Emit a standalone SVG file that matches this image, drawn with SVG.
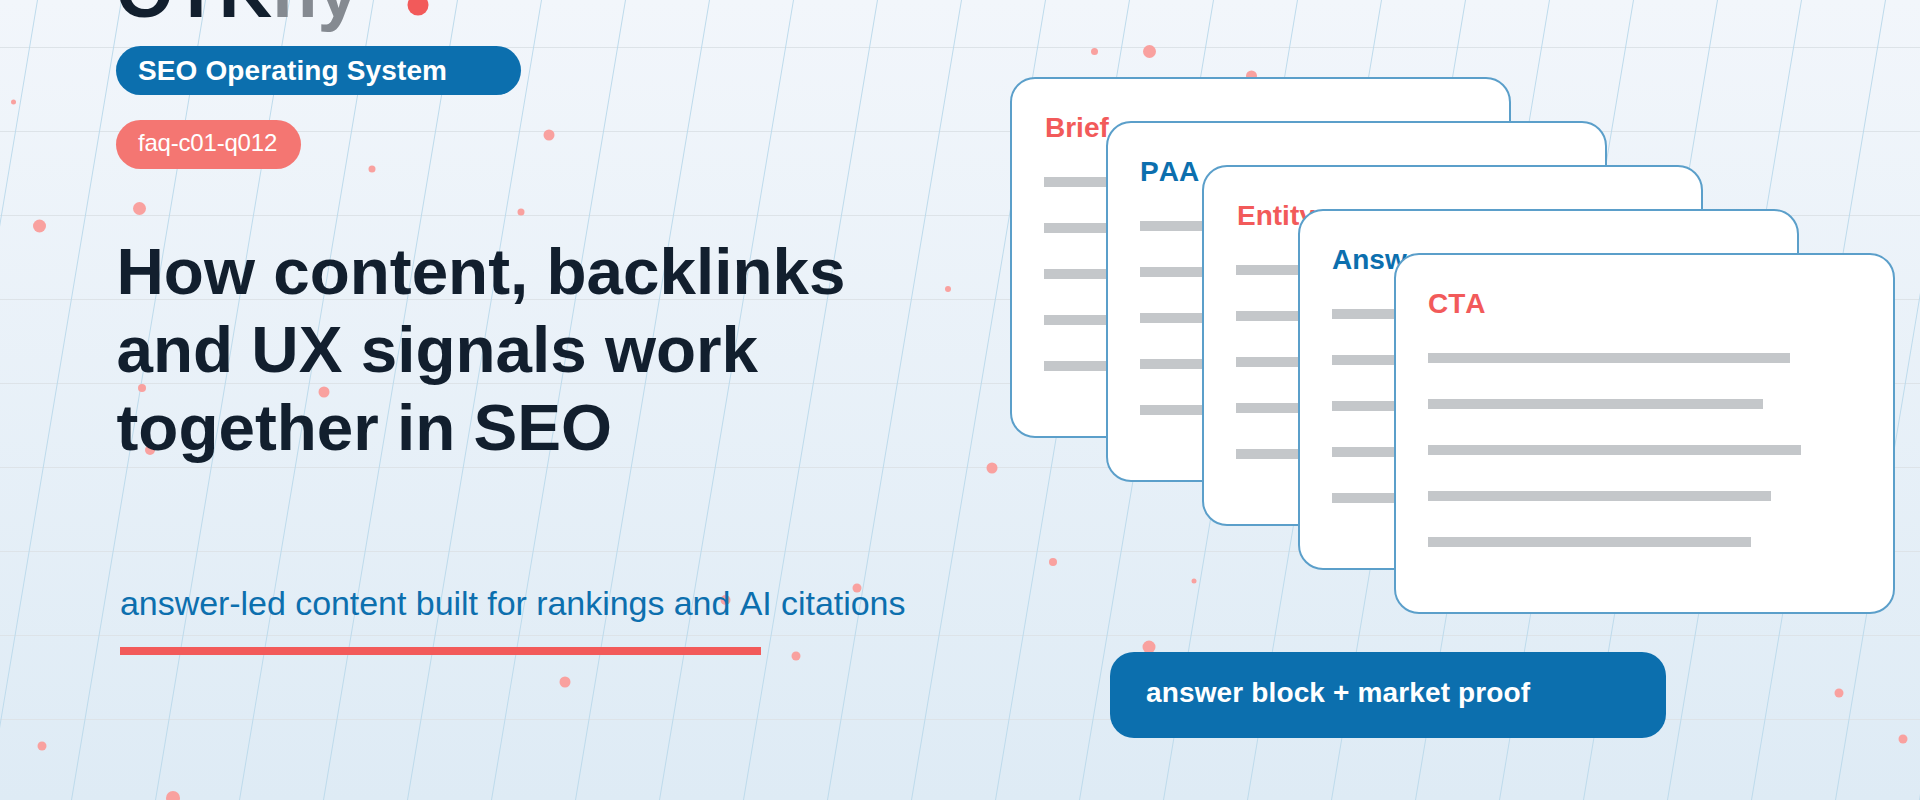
<svg xmlns="http://www.w3.org/2000/svg" width="1920" height="800" viewBox="0 0 1920 800">
<style>
text{font-family:"Liberation Sans",Arial,sans-serif;font-kerning:none}
.b{font-weight:700}
.hg{stroke:#dde3e8;stroke-width:1;fill:none}
.sg{stroke:#bedbec;stroke-width:1;fill:none}
.dot{fill:#f9a19f}
.card{fill:#fff;stroke:#5b9fca;stroke-width:2}
.ln{fill:#c4c7ca}
.ct{font-size:28px;font-weight:700}
.r{fill:#f25a5a}
.u{fill:#0c6fae}
</style>
<defs><linearGradient id="bg" x1="0" y1="0" x2="0" y2="1"><stop offset="0" stop-color="#f2f6fb"/><stop offset="1" stop-color="#deebf5"/></linearGradient></defs>
<rect width="1920" height="800" fill="url(#bg)"/>
<g id="grid">
<path class="hg" d="M0 47.5H1920M0 131.5H1920M0 215.5H1920M0 299.5H1920M0 383.5H1920M0 467.5H1920M0 551.5H1920M0 635.5H1920M0 719.5H1920"/>
<path class="sg" d="M37.5 0L-96.5 800M121.5 0L-12.5 800M205.5 0L71.5 800M289.5 0L155.5 800M373.5 0L239.5 800M457.5 0L323.5 800M541.5 0L407.5 800M625.5 0L491.5 800M709.5 0L575.5 800M793.5 0L659.5 800M877.5 0L743.5 800M961.5 0L827.5 800M1045.5 0L911.5 800M1129.5 0L995.5 800M1213.5 0L1079.5 800M1297.5 0L1163.5 800M1381.5 0L1247.5 800M1465.5 0L1331.5 800M1549.5 0L1415.5 800M1633.5 0L1499.5 800M1717.5 0L1583.5 800M1801.5 0L1667.5 800M1885.5 0L1751.5 800M1969.5 0L1835.5 800M2053.5 0L1919.5 800"/>
</g>
<g id="particles">
<circle class="dot" cx="13.5" cy="102" r="2.5"/><circle class="dot" cx="39.5" cy="226" r="6.5"/><circle class="dot" cx="139.5" cy="208.5" r="6.5"/><circle class="dot" cx="372" cy="169" r="3.5"/><circle class="dot" cx="521" cy="212" r="3.5"/><circle class="dot" cx="549" cy="135" r="5.5"/><circle class="dot" cx="1094.5" cy="51.5" r="3.5"/><circle class="dot" cx="1149.5" cy="51.5" r="6.5"/><circle class="dot" cx="1251.5" cy="76" r="5.5"/><circle class="dot" cx="1194" cy="581" r="2.5"/><circle class="dot" cx="1149" cy="647" r="6.5"/><circle class="dot" cx="1839" cy="693" r="4.5"/><circle class="dot" cx="1903" cy="739" r="4.5"/><circle class="dot" cx="725.5" cy="600" r="5"/><circle class="dot" cx="857" cy="588" r="4.5"/><circle class="dot" cx="796" cy="656" r="4.5"/><circle class="dot" cx="565" cy="682" r="5.5"/><circle class="dot" cx="42" cy="746" r="4.5"/><circle class="dot" cx="173" cy="798" r="7"/><circle class="dot" cx="142" cy="388" r="4"/><circle class="dot" cx="324" cy="392" r="5.5"/><circle class="dot" cx="150" cy="450" r="5"/><circle class="dot" cx="948" cy="289" r="3"/><circle class="dot" cx="992" cy="468" r="5.5"/><circle class="dot" cx="1053" cy="562" r="4"/>
</g>
<g id="logo"><text x="116" y="17" font-size="74" class="b"><tspan fill="#121f2e">OTK</tspan><tspan fill="#858a91">ny</tspan></text><circle cx="418" cy="5" r="10.5" fill="#f25a5a"/></g>
<g id="badge-system"><rect x="116" y="46" width="405" height="49" rx="24.5" fill="#0c6fae"/><text x="138" y="80" font-size="28" letter-spacing=".13" class="b" fill="#fff">SEO Operating System</text></g>
<g id="badge-id"><rect x="116" y="120" width="185" height="49" rx="24.5" fill="#f47672"/><text x="138" y="151" font-size="24" letter-spacing="-.2" fill="#fff">faq-c01-q012</text></g>
<g id="title" class="b" font-size="65.6" fill="#121f2e"><text x="116.5" y="294">How content, backlinks</text><text x="116.5" y="372">and UX signals work</text><text x="116.5" y="450">together in SEO</text></g>
<g id="subtitle"><text x="120" y="615" font-size="34" letter-spacing="-.05" fill="#0c6fae">answer-led content built for rankings and AI citations</text><rect x="120" y="647" width="641" height="8" fill="#f25a5a"/></g>
<g id="card-brief"><rect class="card" x="1011" y="78" width="499" height="359" rx="24"/><text class="ct r" x="1045" y="137">Brief</text><rect class="ln" x="1044" y="177" width="362" height="10"/><rect class="ln" x="1044" y="223" width="335" height="10"/><rect class="ln" x="1044" y="269" width="373" height="10"/><rect class="ln" x="1044" y="315" width="343" height="10"/><rect class="ln" x="1044" y="361" width="323" height="10"/></g>
<g id="card-paa"><rect class="card" x="1107" y="122" width="499" height="359" rx="24"/><text class="ct u" x="1140" y="181">PAA</text><rect class="ln" x="1140" y="221" width="362" height="10"/><rect class="ln" x="1140" y="267" width="335" height="10"/><rect class="ln" x="1140" y="313" width="373" height="10"/><rect class="ln" x="1140" y="359" width="343" height="10"/><rect class="ln" x="1140" y="405" width="323" height="10"/></g>
<g id="card-entity"><rect class="card" x="1203" y="166" width="499" height="359" rx="24"/><text class="ct r" x="1237" y="225">Entity</text><rect class="ln" x="1236" y="265" width="362" height="10"/><rect class="ln" x="1236" y="311" width="335" height="10"/><rect class="ln" x="1236" y="357" width="373" height="10"/><rect class="ln" x="1236" y="403" width="343" height="10"/><rect class="ln" x="1236" y="449" width="323" height="10"/></g>
<g id="card-answer"><rect class="card" x="1299" y="210" width="499" height="359" rx="24"/><text class="ct u" x="1332" y="269">Answer</text><rect class="ln" x="1332" y="309" width="362" height="10"/><rect class="ln" x="1332" y="355" width="335" height="10"/><rect class="ln" x="1332" y="401" width="373" height="10"/><rect class="ln" x="1332" y="447" width="343" height="10"/><rect class="ln" x="1332" y="493" width="323" height="10"/></g>
<g id="card-cta"><rect class="card" x="1395" y="254" width="499" height="359" rx="24"/><text class="ct r" x="1428" y="313">CTA</text><rect class="ln" x="1428" y="353" width="362" height="10"/><rect class="ln" x="1428" y="399" width="335" height="10"/><rect class="ln" x="1428" y="445" width="373" height="10"/><rect class="ln" x="1428" y="491" width="343" height="10"/><rect class="ln" x="1428" y="537" width="323" height="10"/></g>
<g id="proof"><rect x="1110" y="652" width="556" height="86" rx="24" fill="#0c6fae"/><text x="1146" y="702" font-size="28" letter-spacing=".14" class="b" fill="#fff">answer block + market proof</text></g>
<g id="connectors"/>
</svg>
